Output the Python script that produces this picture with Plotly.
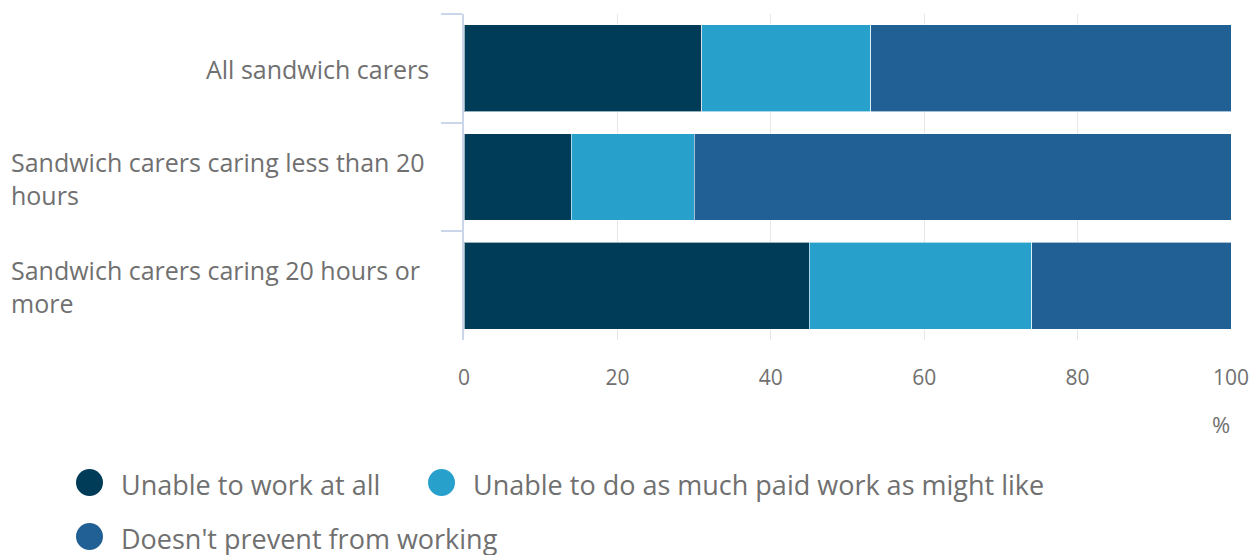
import plotly.graph_objects as go

categories = [
    "All sandwich carers",
    "Sandwich carers caring less than 20 hours",
    "Sandwich carers caring 20 hours or more",
]
category_labels = [
    "All sandwich carers",
    "Sandwich carers caring less than 20<br>hours",
    "Sandwich carers caring 20 hours or<br>more",
]
series_names = [
    "Unable to work at all",
    "Unable to do as much paid work as might like",
    "Doesn't prevent from working",
]
unable_at_all = [31, 14, 45]
unable_as_much = [22, 16, 29]
doesnt_prevent = [47, 70, 26]
x_ticks = [0, 20, 40, 60, 80, 100]
colors = ["#003c57", "#27a0cc", "#206095"]

W, H = 1260, 555
L, R, T, B = 464, 1231, 14, 340
FONT = "Open Sans"
GREY = "#707070"

def px(xp):
    return (xp - L) / (R - L)

def py(yp):
    return (B - yp) / (B - T)

fig = go.Figure()
for name, vals, c in zip(series_names, [unable_at_all, unable_as_much, doesnt_prevent], colors):
    fig.add_trace(go.Bar(
        y=categories, x=vals, name=name, orientation="h",
        marker=dict(color=c, line=dict(color="rgba(255,255,255,0.6)", width=1)),
        showlegend=False,
    ))

# category labels (single-line right-aligned, wrapped ones left-aligned block)
for cat, lab in zip(categories, category_labels):
    if "<br>" in lab:
        fig.add_annotation(x=px(9), xref="paper", y=cat, yref="y", text=lab,
                           showarrow=False, xanchor="left", align="left", yshift=-1,
                           font=dict(family=FONT, size=25, color=GREY))
    else:
        fig.add_annotation(x=px(431), xref="paper", y=cat, yref="y", text=lab,
                           showarrow=False, xanchor="right", align="right", yshift=-1,
                           font=dict(family=FONT, size=25, color=GREY))

# % unit label
fig.add_annotation(x=px(1232), xref="paper", y=py(424), yref="paper", text="%",
                   showarrow=False, xanchor="right", yanchor="middle",
                   font=dict(family=FONT, size=22, color=GREY))

# custom legend
legend_items = [(89.5, 482.5, 119), (441.5, 482.5, 471), (89.5, 536.5, 119)]
for (cx, cy, tx), name, c in zip(legend_items, series_names, colors):
    r = 13.5
    fig.add_shape(type="circle", xref="paper", yref="paper",
                  x0=px(cx - r), x1=px(cx + r), y0=py(cy + r), y1=py(cy - r),
                  fillcolor=c, line=dict(width=0))
    fig.add_annotation(x=px(tx), xref="paper", y=py(cy + 1.5), yref="paper", text=name,
                       showarrow=False, xanchor="left", yanchor="middle",
                       font=dict(family=FONT, size=27, color=GREY))

fig.update_layout(
    width=W, height=H,
    margin=dict(l=L, r=W - R, t=T, b=H - B, pad=0),
    barmode="stack", bargap=0.2,
    plot_bgcolor="white", paper_bgcolor="white",
    font=dict(family=FONT, size=24, color=GREY),
    showlegend=False,
    xaxis=dict(range=[0, 100], tickvals=x_ticks, showgrid=True, gridcolor="#e6e6e6",
               gridwidth=1, zeroline=False, showline=False, ticks="",
               ticklabelstandoff=23, automargin=False,
               tickfont=dict(family=FONT, size=21, color=GREY), fixedrange=True),
    yaxis=dict(autorange="reversed", showticklabels=False, showline=True,
               linecolor="#ccd6eb", linewidth=2, ticks="outside", tickson="boundaries",
               ticklen=21, tickwidth=2, tickcolor="#ccd6eb", showgrid=False,
               zeroline=False, fixedrange=True, automargin=False),
)

fig.write_html("out.html")
